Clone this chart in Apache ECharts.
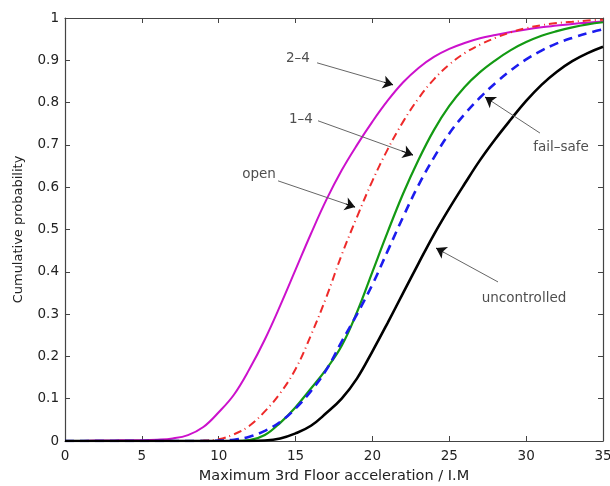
<!DOCTYPE html>
<html>
<head>
<meta charset="utf-8">
<script src="https://cdn.jsdelivr.net/npm/echarts/dist/echarts.min.js"></script>
<style>
  html, body { margin: 0; padding: 0; background: #fff; }
  #chart { width: 610px; height: 486px; }
</style>
</head>
<body>
<div id="chart"></div>
<script>
// acceleration values (x), one per sample
const accel = [0, 1, 2, 3, 4, 5, 6, 7, 8, 9, 10, 11, 12, 13, 14, 15, 16, 17,
  18, 19, 20, 21, 22, 23, 24, 25, 26, 27, 28, 29, 30, 31, 32, 33, 34, 35]

// cumulative probability
const twoFour = [0, 0, 0.001, 0.001, 0.002, 0.002, 0.003, 0.006, 0.014, 0.033, 0.068, 0.11,
  0.17, 0.24, 0.32, 0.405, 0.49, 0.57, 0.64, 0.70, 0.755, 0.805, 0.848, 0.882,
  0.908, 0.927, 0.941, 0.952, 0.96, 0.967, 0.973, 0.978, 0.982, 0.986, 0.989, 0.992]
const openCtl = [0, 0, 0, 0, 0, 0, 0, 0, 0, 0.001, 0.004, 0.016,
  0.036, 0.07, 0.113, 0.17, 0.25, 0.34, 0.44, 0.53, 0.615, 0.69, 0.755, 0.81,
  0.855, 0.89, 0.917, 0.937, 0.953, 0.966, 0.976, 0.983, 0.988, 0.991, 0.994, 0.996]
const oneFour = [0, 0, 0, 0, 0, 0, 0, 0, 0, 0, 0, 0,
  0.002, 0.014, 0.043, 0.08, 0.124, 0.17, 0.225, 0.305, 0.40, 0.495, 0.585, 0.665,
  0.735, 0.792, 0.837, 0.872, 0.9, 0.924, 0.943, 0.958, 0.969, 0.978, 0.985, 0.99]
const failSafe = [0, 0, 0, 0, 0, 0, 0, 0, 0, 0, 0.001, 0.003,
  0.01, 0.024, 0.045, 0.077, 0.118, 0.168, 0.235, 0.30, 0.37, 0.45, 0.53, 0.605,
  0.67, 0.727, 0.773, 0.812, 0.846, 0.876, 0.902, 0.923, 0.94, 0.953, 0.964, 0.973]
const uncontrolled = [0, 0, 0, 0, 0, 0, 0, 0, 0, 0, 0, 0,
  0, 0.001, 0.006, 0.018, 0.036, 0.066, 0.10, 0.148, 0.212, 0.28, 0.35, 0.42,
  0.488, 0.55, 0.608, 0.664, 0.714, 0.76, 0.804, 0.842, 0.873, 0.898, 0.917, 0.932]

// annotations: label, label position, arrow tail, arrow head (data coords)
const annoNames = ['2–4', '1–4', 'open', 'fail–safe', 'uncontrolled']
const annoText = [[15.15, 0.905], [15.35, 0.759], [12.62, 0.631], [32.27, 0.695], [29.86, 0.338]]
const annoTail = [[16.4, 0.894], [16.46, 0.757], [13.86, 0.615], [30.9, 0.728], [28.17, 0.376]]
const annoHead = [[21.34, 0.842], [22.64, 0.676], [18.87, 0.553], [27.33, 0.813], [24.14, 0.456]]

function pairs (ys) {
  return accel.map((x, i) => [x, ys[i]])
}

const chart = echarts.init(document.getElementById('chart'))
const font = 'DejaVu Sans, Verdana, sans-serif'
const axisCol = '#444'

const baseX = {
  type: 'value',
  min: 0,
  max: 35,
  interval: 5,
  axisLine: { onZero: false, lineStyle: { color: axisCol, width: 1.2 } },
  axisTick: { inside: true, length: 5, lineStyle: { color: axisCol } },
  splitLine: { show: false }
}
const baseY = {
  type: 'value',
  min: 0,
  max: 1,
  interval: 0.1,
  axisLine: { onZero: false, lineStyle: { color: axisCol, width: 1.2 } },
  axisTick: { inside: true, length: 5, lineStyle: { color: axisCol } },
  splitLine: { show: false }
}

function curve (name, ys, color, width, type) {
  return {
    name: name,
    type: 'line',
    data: pairs(ys),
    showSymbol: false,
    smooth: 0.4,
    lineStyle: { color: color, width: width, type: type },
    itemStyle: { color: color },
    animation: false,
    silent: true
  }
}

// short black piece at the tip of each arrow so the head is black, shaft grey
const headStart = annoHead.map((h, i) => [
  h[0] - 0.12 * (h[0] - annoTail[i][0]),
  h[1] - 0.12 * (h[1] - annoTail[i][1])
])

const option = {
  backgroundColor: '#fff',
  textStyle: { fontFamily: font },
  grid: { left: 65, right: 7, top: 18, bottom: 45, outerBoundsMode: 'none', containLabel: false },
  xAxis: [
    Object.assign({}, baseX, {
      position: 'bottom',
      name: 'Maximum 3rd Floor acceleration / I.M',
      nameLocation: 'middle',
      nameGap: 28,
      nameTextStyle: { fontSize: 14.5, color: '#222', fontFamily: font },
      axisLabel: { margin: 8, fontSize: 13.5, color: '#222', fontFamily: font }
    }),
    Object.assign({}, baseX, { position: 'top', axisLabel: { show: false } })
  ],
  yAxis: [
    Object.assign({}, baseY, {
      position: 'left',
      name: 'Cumulative probability',
      nameLocation: 'middle',
      nameGap: 40,
      nameTextStyle: { fontSize: 13, color: '#222', fontFamily: font },
      axisLabel: { margin: 6, fontSize: 13.5, color: '#222', fontFamily: font }
    }),
    Object.assign({}, baseY, { position: 'right', axisLabel: { show: false } })
  ],
  series: [
    curve('2-4', twoFour, '#cc11cc', 2, 'solid'),
    curve('open', openCtl, '#ee2a2a', 2, [8, 4, 1, 4]),
    curve('1-4', oneFour, '#139a13', 2.2, 'solid'),
    curve('fail-safe', failSafe, '#1c1cee', 2.6, [9, 6]),
    curve('uncontrolled', uncontrolled, '#000000', 2.6, 'solid'),
    {
      type: 'scatter',
      symbolSize: 0,
      silent: true,
      animation: false,
      data: annoText.map((p, i) => ({ value: p, name: annoNames[i] })),
      label: {
        show: true,
        position: 'inside',
        formatter: '{b}',
        fontSize: 13.5,
        color: '#222',
        fontFamily: font
      },
      markLine: {
        silent: true,
        animation: false,
        symbol: ['none', 'none'],
        label: { show: false },
        lineStyle: { color: '#666', width: 1, type: 'solid' },
        data: annoTail.map((t, i) => [
          { coord: t },
          { coord: annoHead[i] }
        ])
      }
    },
    {
      type: 'line',
      data: [],
      silent: true,
      animation: false,
      markLine: {
        silent: true,
        animation: false,
        symbol: ['none', 'arrow'],
        symbolSize: 10,
        label: { show: false },
        lineStyle: { color: '#111', width: 1, type: 'solid' },
        data: headStart.map((s, i) => [
          { coord: s },
          { coord: annoHead[i] }
        ])
      }
    }
  ]
}

chart.setOption(option)
</script>
</body>
</html>
